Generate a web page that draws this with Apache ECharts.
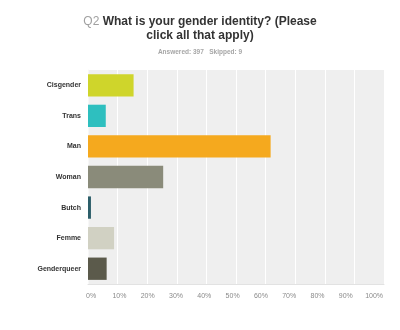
<!DOCTYPE html>
<html>
<head>
<meta charset="utf-8">
<script src="https://cdn.jsdelivr.net/npm/echarts@6/dist/echarts.min.js"></script>
<style>
  html, body { margin: 0; padding: 0; background: #ffffff; }
  #chart { width: 400px; height: 330px; }
</style>
</head>
<body>
<div id="chart"></div>
<script>
// Survey answers, top to bottom
const categories = ['Cisgender', 'Trans', 'Man', 'Woman', 'Butch', 'Femme', 'Genderqueer'];
// Share of respondents (%)
const shares = [15.4, 6.0, 61.7, 25.4, 1.0, 8.8, 6.3];
const barColors = ['#cfd52b', '#2ebfbf', '#f5a91e', '#8a8b7a', '#2c5e69', '#d1d1c3', '#5b5a4b'];
const tickValues = [0, 10, 20, 30, 40, 50, 60, 70, 80, 90, 100];

const chart = echarts.init(document.getElementById('chart'), null, { renderer: 'canvas' });

const font = 'Liberation Sans, Arial, sans-serif';

chart.setOption({
  animation: false,
  backgroundColor: '#ffffff',
  title: [
    {
      text: '{q|Q2} What is your gender identity? (Please',
      left: 'center',
      top: 11,
      textStyle: {
        fontFamily: font, fontSize: 12, fontWeight: 'bold', color: '#333333',
        rich: { q: { fontFamily: font, fontSize: 12, fontWeight: 'normal', color: '#a0a0a0' } }
      }
    },
    {
      text: 'click all that apply)',
      left: 'center',
      top: 25,
      textStyle: { fontFamily: font, fontSize: 12, fontWeight: 'bold', color: '#333333' }
    },
    {
      text: 'Answered: 397   Skipped: 9',
      left: 'center',
      top: 44,
      textStyle: { fontFamily: font, fontSize: 6.5, fontWeight: 'bold', color: '#a6a6a6' }
    }
  ],
  grid: {
    left: 88, right: 16, top: 70, bottom: 46,
    show: true, backgroundColor: '#efefef', borderWidth: 0
  },
  xAxis: [
    {
      // value scale for the bars and the white grid lines
      type: 'value',
      min: 0, max: 100, interval: 10,
      axisLine: { show: true, lineStyle: { color: '#e2e2e2', width: 1 } },
      axisTick: { show: false },
      splitLine: { show: true, lineStyle: { color: '#ffffff', width: 1 } },
      axisLabel: { show: false }
    },
    {
      // percentage tick labels along the bottom
      type: 'value',
      position: 'bottom',
      min: -1.1, max: 103.5,
      axisLine: { show: false },
      axisTick: { show: false },
      splitLine: { show: false },
      axisLabel: {
        color: '#8a8a8a', fontFamily: font, fontSize: 7, margin: 9,
        customValues: tickValues,
        formatter: v => v + '%'
      }
    }
  ],
  yAxis: {
    type: 'category',
    data: categories,
    inverse: true,
    axisLine: { show: true, lineStyle: { color: '#f7f7f7', width: 1 } },
    axisTick: { show: false },
    splitLine: { show: false },
    axisLabel: {
      color: '#333333', fontFamily: font, fontSize: 7, fontWeight: 'bold', margin: 7
    }
  },
  series: [{
    type: 'bar',
    xAxisIndex: 0,
    data: shares.map((v, i) => ({ value: v, itemStyle: { color: barColors[i] } })),
    barCategoryGap: '27%',
    label: { show: false }
  }]
});
</script>
</body>
</html>
